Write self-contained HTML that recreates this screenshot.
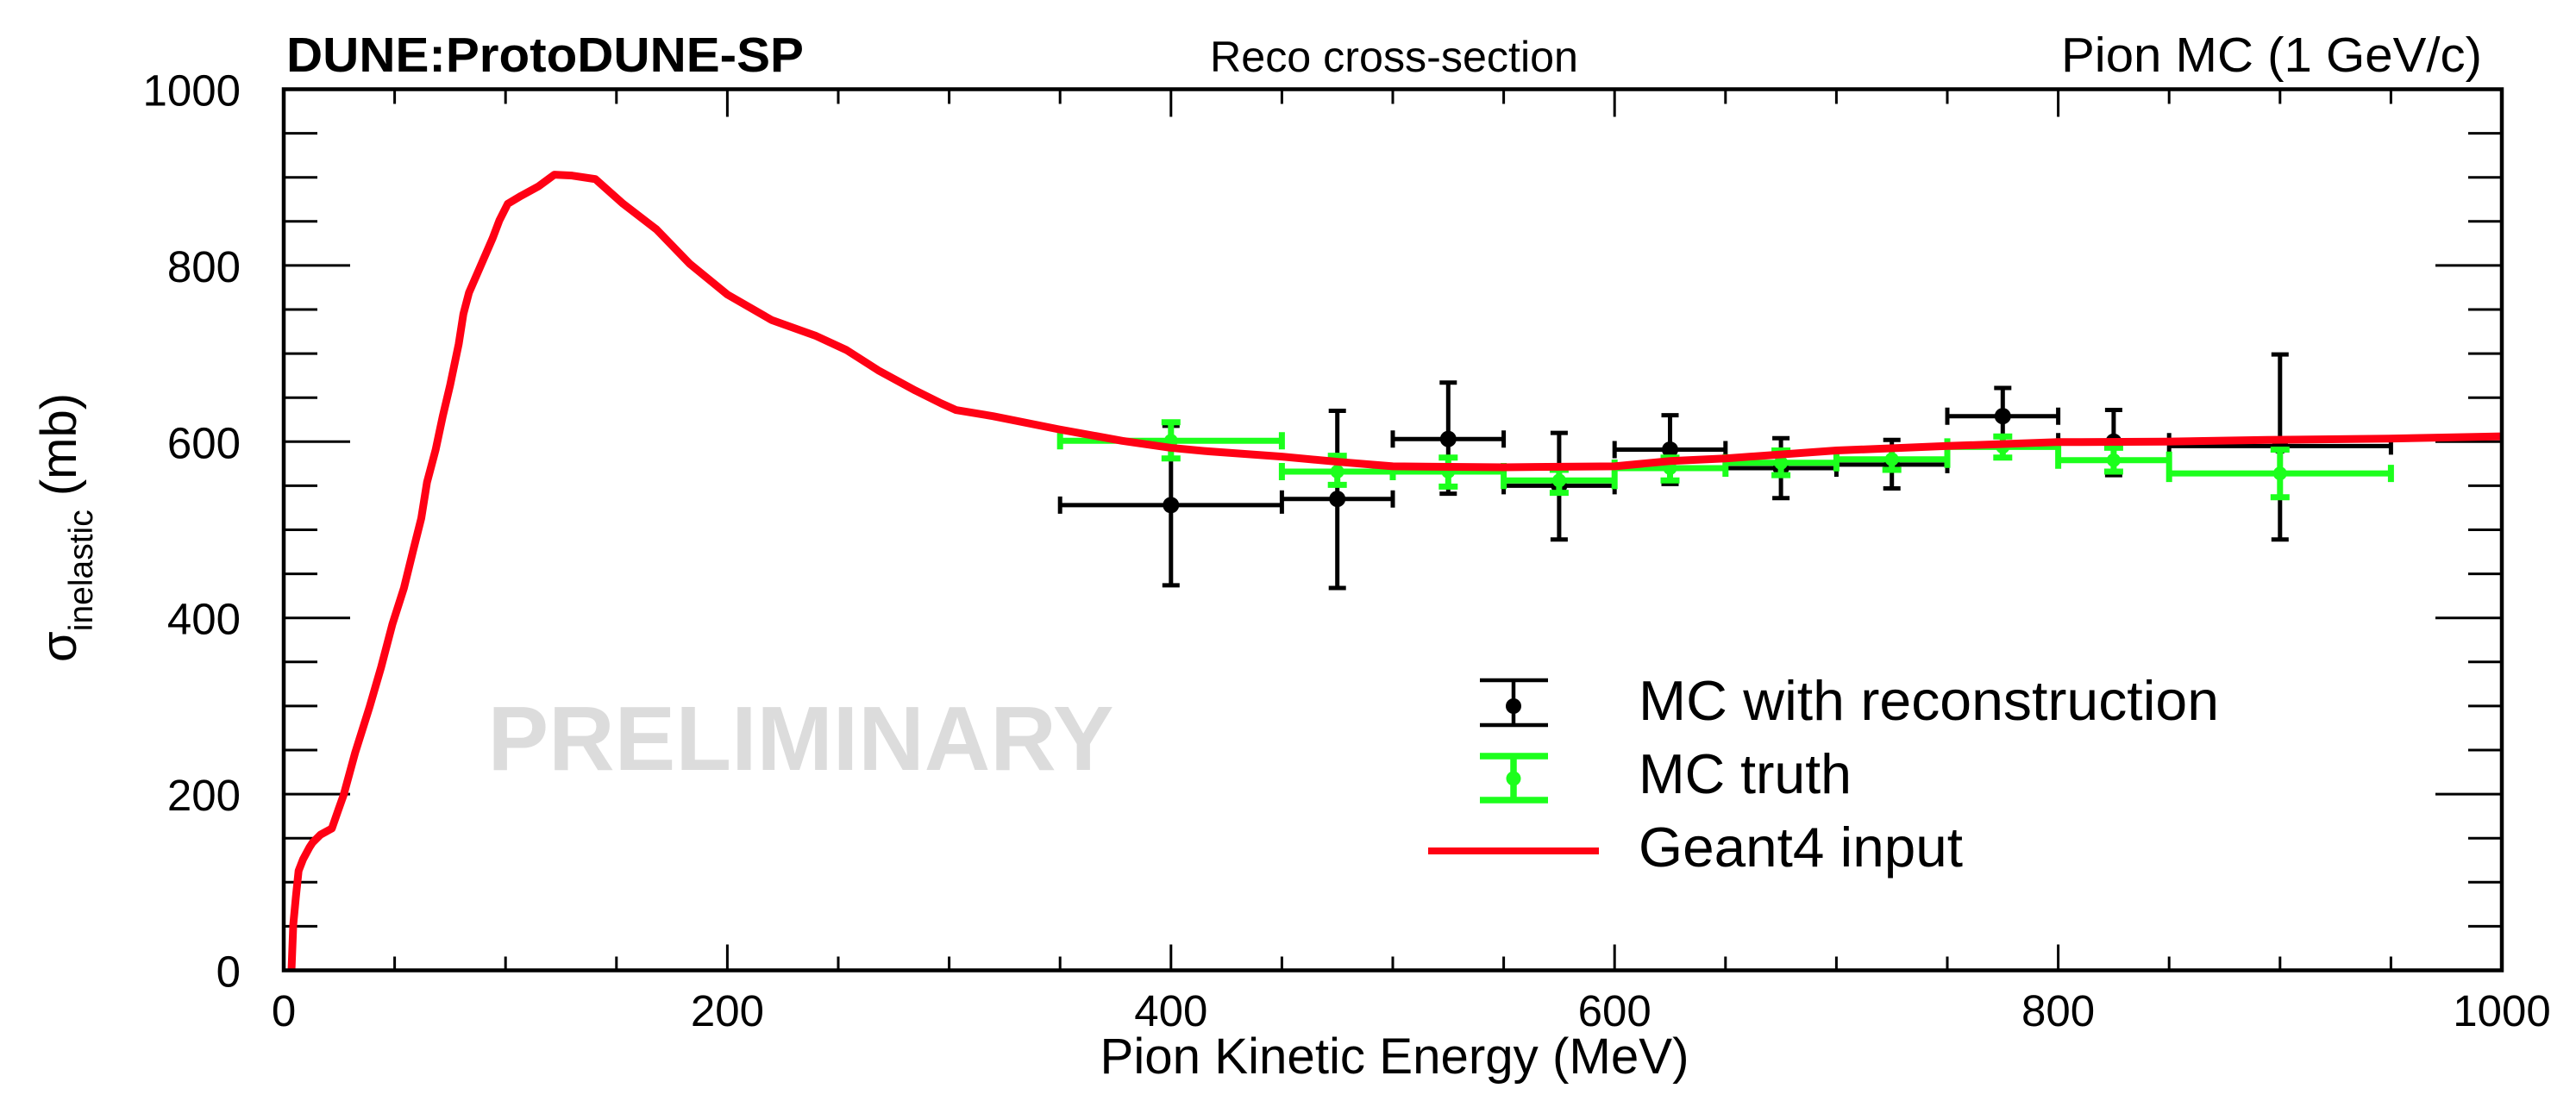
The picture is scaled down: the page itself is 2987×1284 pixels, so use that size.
<!DOCTYPE html>
<html>
<head>
<meta charset="utf-8">
<style>
html,body{margin:0;padding:0;background:#fff;}
body{width:2987px;height:1284px;overflow:hidden;}
svg{display:block;}
text{font-family:"Liberation Sans",Arial,Helvetica,sans-serif;fill:#000;}
</style>
</head>
<body>
<svg width="2987" height="1284" viewBox="0 0 2987 1284" xmlns="http://www.w3.org/2000/svg">
<rect x="0" y="0" width="2987" height="1284" fill="#fff"/>

<!-- Titles -->
<text x="332" y="83" font-size="57" font-weight="bold" textLength="600" lengthAdjust="spacingAndGlyphs">DUNE:ProtoDUNE-SP</text>
<text x="1403" y="83" font-size="50" textLength="427" lengthAdjust="spacingAndGlyphs">Reco cross-section</text>
<text x="2390" y="83" font-size="57" textLength="488" lengthAdjust="spacingAndGlyphs">Pion MC (1 GeV/c)</text>

<!-- PRELIMINARY watermark -->
<text x="565.5" y="893" font-size="106" font-weight="bold" style="fill:#dcdcdc" textLength="726" lengthAdjust="spacingAndGlyphs">PRELIMINARY</text>

<!-- Ticks -->
<path fill="none" stroke="#000" stroke-width="3" d="
M843.4 1125.5V1095.5 M1357.8 1125.5V1095.5 M1872.2 1125.5V1095.5 M2386.6 1125.5V1095.5
M457.6 1125.5V1109.5 M586.2 1125.5V1109.5 M714.8 1125.5V1109.5 M972 1125.5V1109.5 M1100.6 1125.5V1109.5 M1229.2 1125.5V1109.5 M1486.4 1125.5V1109.5 M1615 1125.5V1109.5 M1743.6 1125.5V1109.5 M2000.8 1125.5V1109.5 M2129.4 1125.5V1109.5 M2258 1125.5V1109.5 M2515.2 1125.5V1109.5 M2643.8 1125.5V1109.5 M2772.4 1125.5V1109.5
M843.4 103.5V135.5 M1357.8 103.5V135.5 M1872.2 103.5V135.5 M2386.6 103.5V135.5
M457.6 103.5V120.5 M586.2 103.5V120.5 M714.8 103.5V120.5 M972 103.5V120.5 M1100.6 103.5V120.5 M1229.2 103.5V120.5 M1486.4 103.5V120.5 M1615 103.5V120.5 M1743.6 103.5V120.5 M2000.8 103.5V120.5 M2129.4 103.5V120.5 M2258 103.5V120.5 M2515.2 103.5V120.5 M2643.8 103.5V120.5 M2772.4 103.5V120.5
M329 307.9H406 M329 512.3H406 M329 716.7H406 M329 921.1H406
M329 154.6H368 M329 205.7H368 M329 256.8H368 M329 359H368 M329 410.1H368 M329 461.2H368 M329 563.4H368 M329 614.5H368 M329 665.6H368 M329 767.8H368 M329 818.9H368 M329 870H368 M329 972.2H368 M329 1023.3H368 M329 1074.4H368
M2901 307.9H2824 M2901 512.3H2824 M2901 716.7H2824 M2901 921.1H2824
M2901 154.6H2862 M2901 205.7H2862 M2901 256.8H2862 M2901 359H2862 M2901 410.1H2862 M2901 461.2H2862 M2901 563.4H2862 M2901 614.5H2862 M2901 665.6H2862 M2901 767.8H2862 M2901 818.9H2862 M2901 870H2862 M2901 972.2H2862 M2901 1023.3H2862 M2901 1074.4H2862
"/>

<!-- Tick labels -->
<g font-size="51" text-anchor="middle">
<text x="329" y="1190">0</text>
<text x="843.4" y="1190">200</text>
<text x="1357.8" y="1190">400</text>
<text x="1872.2" y="1190">600</text>
<text x="2386.6" y="1190">800</text>
<text x="2901" y="1190">1000</text>
</g>
<g font-size="51" text-anchor="end">
<text x="279" y="1144.5">0</text>
<text x="279" y="940.1">200</text>
<text x="279" y="735.7">400</text>
<text x="279" y="531.3">600</text>
<text x="279" y="326.9">800</text>
<text x="279" y="122.5">1000</text>
</g>

<!-- Axis titles -->
<text x="1617" y="1245" font-size="58" text-anchor="middle" textLength="683" lengthAdjust="spacingAndGlyphs">Pion Kinetic Energy (MeV)</text>
<text transform="translate(88,768) rotate(-90)" font-size="58">σ<tspan font-size="39" dy="19">inelastic</tspan><tspan dy="-19"> (mb)</tspan></text>

<!-- MC with reconstruction (black) -->
<path fill="none" stroke="#000" stroke-width="5" d="
M1229.2 585.9H1486.4 M1229.2 575.9V595.9 M1486.4 575.9V595.9 M1357.8 493.9V678.9 M1347.8 493.9H1367.8 M1347.8 678.9H1367.8
M1486.4 578.7H1615 M1486.4 568.7V588.7 M1615 568.7V588.7 M1550.7 476.5V682 M1540.7 476.5H1560.7 M1540.7 682H1560.7
M1615 509.2H1743.6 M1615 499.2V519.2 M1743.6 499.2V519.2 M1679.3 443.8V572.6 M1669.3 443.8H1689.3 M1669.3 572.6H1689.3
M1743.6 563.4H1872.2 M1743.6 553.4V573.4 M1872.2 553.4V573.4 M1807.9 502.1V625.7 M1797.9 502.1H1817.9 M1797.9 625.7H1817.9
M1872.2 521.5H2000.8 M1872.2 511.5V531.5 M2000.8 511.5V531.5 M1936.5 481.6V561.4 M1926.5 481.6H1946.5 M1926.5 561.4H1946.5
M2000.8 543H2129.4 M2000.8 533V553 M2129.4 533V553 M2065.1 508.2V577.7 M2055.1 508.2H2075.1 M2055.1 577.7H2075.1
M2129.4 538.9H2258 M2129.4 528.9V548.9 M2258 528.9V548.9 M2193.7 510.3V566.5 M2183.7 510.3H2203.7 M2183.7 566.5H2203.7
M2258 482.7H2386.6 M2258 472.7V492.7 M2386.6 472.7V492.7 M2322.3 450V514.3 M2312.3 450H2332.3 M2312.3 514.3H2332.3
M2386.6 512.3H2515.2 M2386.6 502.3V522.3 M2515.2 502.3V522.3 M2450.9 475.5V551.1 M2440.9 475.5H2460.9 M2440.9 551.1H2460.9
M2515.2 517.4H2772.4 M2515.2 507.4V527.4 M2772.4 507.4V527.4 M2643.8 411.1V625.7 M2633.8 411.1H2653.8 M2633.8 625.7H2653.8
"/>
<g fill="#000">
<circle cx="1357.8" cy="585.9" r="9.5"/>
<circle cx="1550.7" cy="578.7" r="9.5"/>
<circle cx="1679.3" cy="509.2" r="9.5"/>
<circle cx="1807.9" cy="563.4" r="9.5"/>
<circle cx="1936.5" cy="521.5" r="9.5"/>
<circle cx="2065.1" cy="543" r="9.5"/>
<circle cx="2193.7" cy="538.9" r="9.5"/>
<circle cx="2322.3" cy="482.7" r="9.5"/>
<circle cx="2450.9" cy="512.3" r="9.5"/>
<circle cx="2643.8" cy="517.4" r="9.5"/>
</g>

<!-- MC truth (green) -->
<path fill="none" stroke="#1cff1c" stroke-width="7" d="
M1229.2 511.3H1486.4 M1229.2 501.3V521.3 M1486.4 501.3V521.3 M1357.8 489.8V531.7 M1346.8 489.8H1368.8 M1346.8 531.7H1368.8
M1486.4 547H1615 M1486.4 537V557 M1615 537V557 M1550.7 528.6V562.4 M1539.7 528.6H1561.7 M1539.7 562.4H1561.7
M1615 547H1743.6 M1615 537V557 M1743.6 537V557 M1679.3 530.7V564.4 M1668.3 530.7H1690.3 M1668.3 564.4H1690.3
M1743.6 557.3H1872.2 M1743.6 547.3V567.3 M1872.2 547.3V567.3 M1807.9 545V571.6 M1796.9 545H1818.9 M1796.9 571.6H1818.9
M1872.2 543H2000.8 M1872.2 533V553 M2000.8 533V553 M1936.5 530.7V557.3 M1925.5 530.7H1947.5 M1925.5 557.3H1947.5
M2000.8 536.8H2129.4 M2000.8 526.8V546.8 M2129.4 526.8V546.8 M2065.1 522.5V551.1 M2054.1 522.5H2076.1 M2054.1 551.1H2076.1
M2129.4 532.7H2258 M2129.4 522.7V542.7 M2258 522.7V542.7 M2193.7 520.5V545 M2182.7 520.5H2204.7 M2182.7 545H2204.7
M2258 518.4H2386.6 M2258 508.4V528.4 M2386.6 508.4V528.4 M2322.3 506.2V530.7 M2311.3 506.2H2333.3 M2311.3 530.7H2333.3
M2386.6 533.7H2515.2 M2386.6 523.7V543.7 M2515.2 523.7V543.7 M2450.9 519.4V547 M2439.9 519.4H2461.9 M2439.9 547H2461.9
M2515.2 549.1H2772.4 M2515.2 539.1V559.1 M2772.4 539.1V559.1 M2643.8 521.5V576.7 M2632.8 521.5H2654.8 M2632.8 576.7H2654.8
"/>
<g fill="#1cff1c">
<circle cx="1357.8" cy="511.3" r="8"/>
<circle cx="1550.7" cy="547" r="8"/>
<circle cx="1679.3" cy="547" r="8"/>
<circle cx="1807.9" cy="557.3" r="8"/>
<circle cx="1936.5" cy="543" r="8"/>
<circle cx="2065.1" cy="536.8" r="8"/>
<circle cx="2193.7" cy="532.7" r="8"/>
<circle cx="2322.3" cy="518.4" r="8"/>
<circle cx="2450.9" cy="533.7" r="8"/>
<circle cx="2643.8" cy="549.1" r="8"/>
</g>

<!-- Geant4 input (red) in data coordinates -->
<g transform="translate(329,1125.5) scale(2.572,-1.022)">
<polyline fill="none" stroke="#ff0014" stroke-width="9" stroke-linejoin="round" stroke-linecap="butt" vector-effect="non-scaling-stroke" points="
3.5,0 4.3,52 5.5,84 6.7,113 8.7,126 11.7,140 13,145 16.6,154 21.7,161 24.6,182 27,199 32.2,247 38.7,299 43.9,344 49,393 54.2,434 58.2,475 62,513 64.6,554 68.5,591 71.7,629 75,664 78.9,711 81,745 83.5,769 88.5,798 94.2,831 97.2,851 101,870 107,879 115,890 122,903 130,902 140.5,898 153,870 168,841 183,802 200,767 220,738 240,720 253.7,704 268,681 284.8,658 296.4,643.5 303,636 319.7,629 349.5,614 378,601 400,593 417,589 450,583 476,577 500,572 550,571 600,572 625,578 650,581 700,590 749,595 799,599.5 848,600 894,602 949,603.5 1000,606"/>
</g>

<!-- Frame -->
<rect x="329" y="103.5" width="2572" height="1022" fill="none" stroke="#000" stroke-width="4.5"/>

<!-- Legend -->
<path fill="none" stroke="#000" stroke-width="4.5" d="M1755 789V841 M1716 789H1795 M1716 841H1795"/>
<circle cx="1755" cy="819" r="9" fill="#000"/>
<path fill="none" stroke="#1cff1c" stroke-width="7.5" d="M1755 877V928 M1716 877H1795 M1716 928H1795"/>
<circle cx="1755" cy="903" r="8.5" fill="#1cff1c"/>
<path fill="none" stroke="#ff0014" stroke-width="8" d="M1656 987H1854"/>
<text x="1900" y="835" font-size="65" textLength="673" lengthAdjust="spacingAndGlyphs">MC with reconstruction</text>
<text x="1900" y="920" font-size="65" textLength="247" lengthAdjust="spacingAndGlyphs">MC truth</text>
<text x="1900" y="1005" font-size="65" textLength="376" lengthAdjust="spacingAndGlyphs">Geant4 input</text>
</svg>
</body>
</html>
